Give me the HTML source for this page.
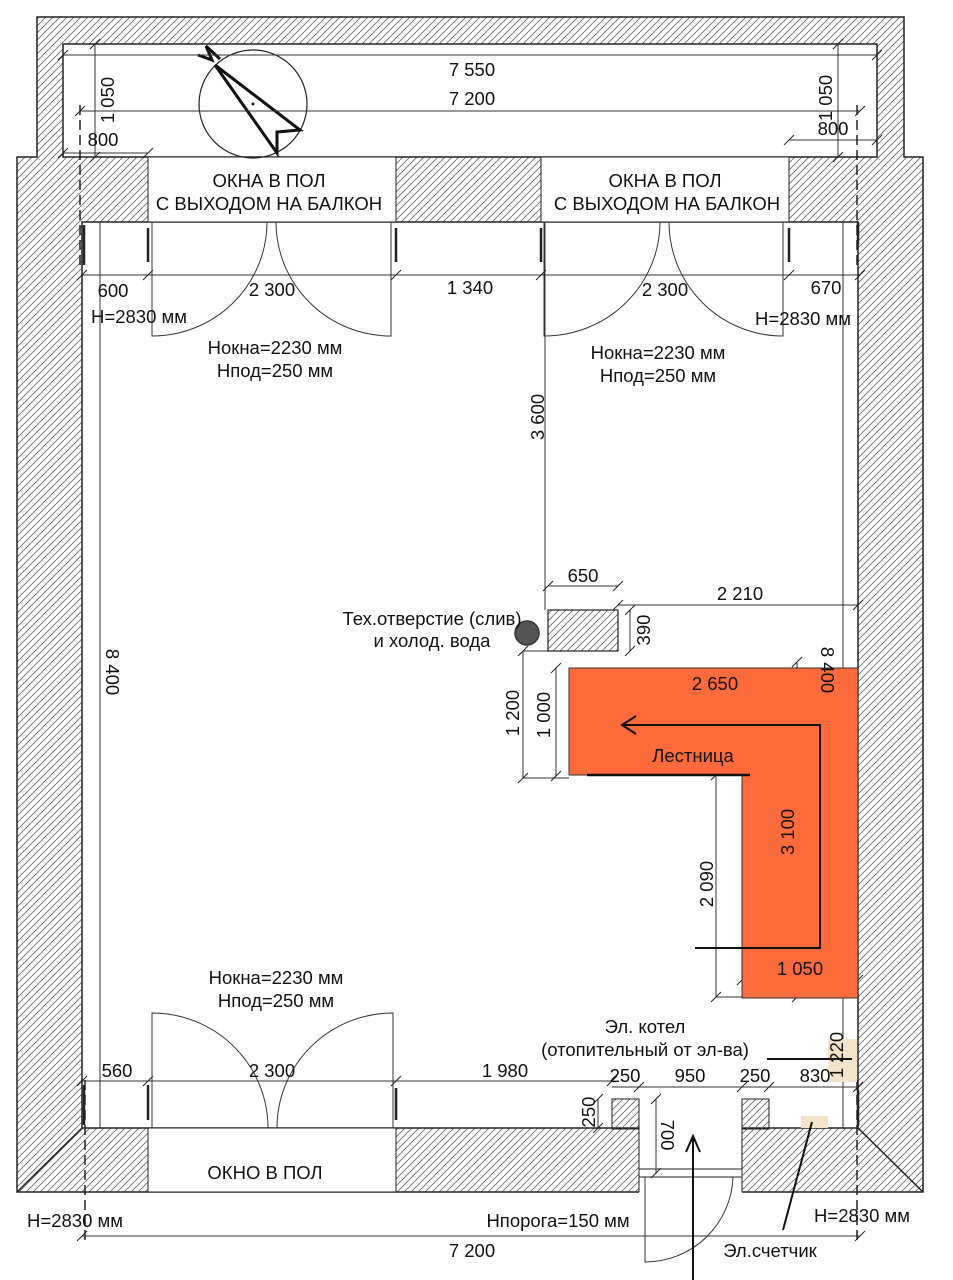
<!DOCTYPE html>
<html><head><meta charset="utf-8"><style>
html,body{margin:0;padding:0;background:#fff}
svg{display:block}
text{font-family:"Liberation Sans","DejaVu Sans",sans-serif;font-size:18.5px;fill:#111}
</style></head><body>
<svg width="953" height="1280" viewBox="0 0 953 1280" xmlns="http://www.w3.org/2000/svg">
<defs>
<pattern id="h" patternUnits="userSpaceOnUse" width="7" height="7">
<path d="M0,7 L7,0 M-2,2 L2,-2 M5,9 L9,5" stroke="#666" stroke-width="0.8"/>
</pattern>
</defs>
<path d="M17,157 L37,157 L37,17 L904,17 L904,157 L923,157 L923,1192 L17,1192 Z" fill="url(#h)" stroke="#222" stroke-width="1.5"/>
<rect x="63" y="44" width="814" height="113" fill="#fff" stroke="#222" stroke-width="1.5"/>
<rect x="82" y="222" width="776" height="906" fill="#fff" stroke="#222" stroke-width="1.5"/>
<rect x="148" y="157" width="248" height="65" fill="#fff" stroke="#222" stroke-width="1"/>
<rect x="541" y="157" width="248" height="65" fill="#fff" stroke="#222" stroke-width="1"/>
<rect x="148" y="1128" width="248" height="64" fill="#fff" stroke="#222" stroke-width="1"/>
<rect x="612" y="1099" width="27" height="30" fill="url(#h)" stroke="#222" stroke-width="1"/>
<rect x="742" y="1099" width="27" height="30" fill="url(#h)" stroke="#222" stroke-width="1"/>
<rect x="639" y="1127" width="103" height="66" fill="#fff"/>
<line x1="639" y1="1099" x2="639" y2="1192" stroke="#222"/>
<line x1="742" y1="1099" x2="742" y2="1192" stroke="#222"/>
<line x1="639" y1="1169" x2="742" y2="1169" stroke="#222"/>
<line x1="639" y1="1177" x2="742" y2="1177" stroke="#222"/>
<line x1="17" y1="1192" x2="82" y2="1128" stroke="#222" stroke-width="1.5"/>
<line x1="858" y1="1128" x2="923" y2="1192" stroke="#222" stroke-width="1.5"/>
<path d="M645,1177 L645,1262 A88,88 0 0 0 733,1177" fill="none" stroke="#333" stroke-width="1"/>
<circle cx="253" cy="104" r="54" fill="none" stroke="#222" stroke-width="1.2"/>
<path d="M215,65 L277,153 L277,132 L300,130 Z" fill="#fff" stroke="#111" stroke-width="3" stroke-linejoin="miter"/>
<polyline points="198,55 212,60 206,46 220,59" fill="none" stroke="#111" stroke-width="3"/>
<circle cx="253" cy="104" r="1.5" fill="#111"/>
<g stroke="#333" stroke-width="1" fill="none">
<line x1="63" y1="55" x2="877" y2="55"/>
<line x1="80" y1="111" x2="860" y2="111"/>
<line x1="95" y1="44" x2="95" y2="157"/>
<line x1="63" y1="153" x2="148" y2="153"/>
<line x1="838" y1="44" x2="838" y2="157"/>
<line x1="789" y1="140" x2="877" y2="140"/>
<line x1="82" y1="275" x2="860" y2="275"/>
<line x1="100" y1="222" x2="100" y2="1128"/>
<line x1="843" y1="222" x2="843" y2="1128"/>
<line x1="545" y1="222" x2="545" y2="610"/>
<line x1="548" y1="586" x2="618" y2="586"/>
<line x1="618" y1="605" x2="858" y2="605"/>
<line x1="630" y1="610" x2="630" y2="651"/>
<line x1="523" y1="651" x2="523" y2="778"/>
<line x1="556" y1="668" x2="556" y2="776"/>
<line x1="716" y1="775" x2="716" y2="997"/>
<line x1="797" y1="662" x2="797" y2="997"/>
<line x1="742" y1="980" x2="858" y2="980"/>
<line x1="82" y1="1081" x2="612" y2="1081"/>
<line x1="612" y1="1087" x2="858" y2="1087"/>
<line x1="598" y1="1099" x2="598" y2="1128"/>
<line x1="656" y1="1099" x2="656" y2="1173"/>
<line x1="82" y1="1236" x2="860" y2="1236"/>
<line x1="523" y1="651" x2="548" y2="651"/>
<line x1="523" y1="778" x2="569" y2="778"/>
<line x1="716" y1="997" x2="742" y2="997"/>
</g>
<g stroke="#222" stroke-width="1.5" stroke-dasharray="10,5">
<line x1="80" y1="105" x2="80" y2="270"/>
<line x1="857" y1="105" x2="857" y2="270"/>
<line x1="85" y1="1080" x2="85" y2="1245"/>
<line x1="857" y1="1080" x2="857" y2="1245"/>
</g>
<g stroke="#222" stroke-width="1">
<path d="M58,60 l10,-10 M872,60 l10,-10 M75,116 l10,-10 M855,116 l10,-10 M90,49 l10,-10 M90,162 l10,-10 M58,158 l10,-10 M143,158 l10,-10 M833,49 l10,-10 M833,162 l10,-10 M784,145 l10,-10 M872,145 l10,-10"/>
<path d="M77,280 l10,-10 M143,280 l10,-10 M391,280 l10,-10 M536,280 l10,-10 M784,280 l10,-10 M855,280 l10,-10"/>
<path d="M543,591 l10,-10 M613,591 l10,-10 M613,610 l10,-10 M853,610 l10,-10 M625,615 l10,-10 M625,656 l10,-10 M518,656 l10,-10 M518,783 l10,-10 M551,673 l10,-10 M551,781 l10,-10 M711,780 l10,-10 M711,1002 l10,-10 M792,667 l10,-10 M792,1002 l10,-10 M737,985 l10,-10 M853,985 l10,-10"/>
<path d="M77,1086 l10,-10 M143,1086 l10,-10 M391,1086 l10,-10 M607,1086 l10,-10 M634,1092 l10,-10 M737,1092 l10,-10 M764,1092 l10,-10 M853,1092 l10,-10 M593,1104 l10,-10 M593,1133 l10,-10 M651,1104 l10,-10 M651,1178 l10,-10 M77,1241 l10,-10 M855,1241 l10,-10"/>
</g>
<g stroke="#222" stroke-width="2.5">
<line x1="84" y1="225" x2="84" y2="265"/><line x1="148" y1="228" x2="148" y2="262"/>
<line x1="396" y1="228" x2="396" y2="262"/><line x1="541" y1="228" x2="541" y2="262"/>
<line x1="789" y1="228" x2="789" y2="262"/><line x1="858" y1="222" x2="858" y2="245"/>
<line x1="84" y1="1085" x2="84" y2="1125"/><line x1="148" y1="1085" x2="148" y2="1120"/>
<line x1="396" y1="1088" x2="396" y2="1120"/><line x1="858" y1="1090" x2="858" y2="1126"/>
</g>
<g stroke="#333" stroke-width="1" fill="none">
<path d="M152,222 L152,336 A115,114 0 0 0 267,222"/>
<path d="M391,222 L391,336 A115,114 0 0 1 276,222"/>
<path d="M544,222 L544,336 A116,114 0 0 0 660,222"/>
<path d="M783,222 L783,336 A114,114 0 0 1 669,222"/>
<path d="M152,1128 L152,1013 A116,115 0 0 1 268,1128"/>
<path d="M393,1128 L393,1013 A116,115 0 0 0 277,1128"/>
</g>
<rect x="548" y="610" width="70" height="41" fill="url(#h)" stroke="#222" stroke-width="1.2"/>
<circle cx="527" cy="633" r="12" fill="#555" stroke="#333" stroke-width="1.5"/>
<polygon points="569,668 858,668 858,998 742,998 742,775 569,775" fill="#fd6a3b" stroke="#333" stroke-width="1"/>
<line x1="587" y1="775" x2="750" y2="775" stroke="#111" stroke-width="2.5"/>
<polyline points="695,948 820,948 820,725 622,725" fill="none" stroke="#111" stroke-width="2"/>
<polyline points="636,716 622,725 636,734" fill="none" stroke="#111" stroke-width="2"/>
<rect x="828" y="1039" width="29" height="43" fill="#f3e3c8"/>
<rect x="801" y="1116" width="27" height="12" fill="#f3e3c8"/>
<line x1="767" y1="1059" x2="852" y2="1059" stroke="#111" stroke-width="2"/>
<line x1="783" y1="1230" x2="812" y2="1122" stroke="#111" stroke-width="2"/>
<line x1="693" y1="1280" x2="693" y2="1137" stroke="#111" stroke-width="2"/>
<polyline points="686,1152 693,1136 700,1152" fill="none" stroke="#111" stroke-width="2"/>
<g text-anchor="middle">
<text x="472" y="76">7 550</text>
<text x="472" y="105">7 200</text>
<text x="103" y="146">800</text>
<text x="833" y="135">800</text>
<text x="269" y="187">ОКНА В ПОЛ</text>
<text x="269" y="210">С ВЫХОДОМ НА БАЛКОН</text>
<text x="665" y="187">ОКНА В ПОЛ</text>
<text x="667" y="210">С ВЫХОДОМ НА БАЛКОН</text>
<text x="113" y="297">600</text>
<text x="272" y="296">2 300</text>
<text x="470" y="294">1 340</text>
<text x="665" y="296">2 300</text>
<text x="826" y="294">670</text>
<text x="139" y="323">H=2830 мм</text>
<text x="803" y="325">H=2830 мм</text>
<text x="275" y="354">Нокна=2230 мм</text>
<text x="275" y="377">Нпод=250 мм</text>
<text x="658" y="359">Нокна=2230 мм</text>
<text x="658" y="382">Нпод=250 мм</text>
<text x="583" y="582">650</text>
<text x="740" y="600">2 210</text>
<text x="432" y="625">Тех.отверстие (слив)</text>
<text x="432" y="647">и холод. вода</text>
<text x="715" y="690">2 650</text>
<text x="693" y="762">Лестница</text>
<text x="800" y="975">1 050</text>
<text x="276" y="984">Нокна=2230 мм</text>
<text x="276" y="1007">Нпод=250 мм</text>
<text x="645" y="1033">Эл. котел</text>
<text x="645" y="1056">(отопительный от эл-ва)</text>
<text x="117" y="1077">560</text>
<text x="272" y="1077">2 300</text>
<text x="505" y="1077">1 980</text>
<text x="625" y="1082">250</text>
<text x="690" y="1082">950</text>
<text x="755" y="1082">250</text>
<text x="815" y="1082">830</text>
<text x="265" y="1179">ОКНО В ПОЛ</text>
<text x="75" y="1227">H=2830 мм</text>
<text x="558" y="1227">Нпорога=150 мм</text>
<text x="862" y="1222">H=2830 мм</text>
<text x="472" y="1257">7 200</text>
<text x="770" y="1257">Эл.счетчик</text>
</g>
<g text-anchor="middle">
<text transform="translate(114,100) rotate(-90)">1 050</text>
<text transform="translate(832,98) rotate(-90)">1 050</text>
<text transform="translate(544,417) rotate(-90)">3 600</text>
<text transform="translate(106,672) rotate(90)">8 400</text>
<text transform="translate(821,670) rotate(90)">8 400</text>
<text transform="translate(650,630) rotate(-90)">390</text>
<text transform="translate(519,713) rotate(-90)">1 200</text>
<text transform="translate(550,715) rotate(-90)">1 000</text>
<text transform="translate(713,884) rotate(-90)">2 090</text>
<text transform="translate(794,832) rotate(-90)">3 100</text>
<text transform="translate(595,1112) rotate(-90)">250</text>
<text transform="translate(661,1135) rotate(90)">700</text>
<text transform="translate(843,1055) rotate(-90)">1 220</text>
</g>
</svg>
</body></html>
